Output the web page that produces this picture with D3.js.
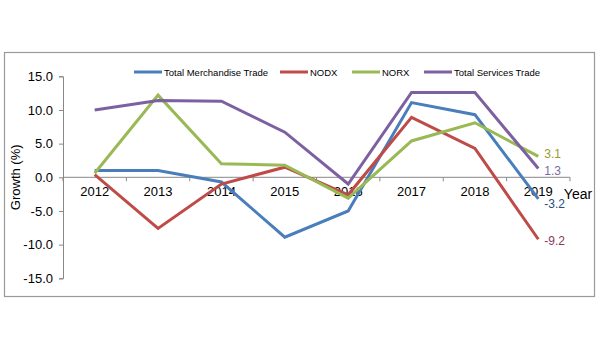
<!DOCTYPE html>
<html><head><meta charset="utf-8">
<script src="https://cdn.jsdelivr.net/npm/d3@7"></script>
<style>body{margin:0;background:#fff;} text{font-family:"Liberation Sans",Arial,sans-serif;}</style>
</head><body><svg id="c" width="600" height="360"></svg>
<script>
const years = ["2012","2013","2014","2015","2016","2017","2018","2019"];
const merchandise = [1.0, 1.0, -0.7, -8.9, -5.0, 11.1, 9.3, -3.2];
const nodx = [0.4, -7.6, -1.0, 1.5, -2.6, 8.9, 4.3, -9.2];
const norx = [0.6, 12.2, 2.0, 1.8, -3.1, 5.4, 8.1, 3.1];
const services = [10.0, 11.4, 11.3, 6.7, -1.0, 12.6, 12.6, 1.3];
const yTicks = [15, 10, 5, 0, -5, -10, -15];
const seriesNames = ["Total Merchandise Trade","NODX","NORX","Total Services Trade"];
const seriesColors = ["#4a7ebb","#be4b48","#98b954","#7d60a0"];
const labelColors = ["#1f4e79","#8b3a5a","#9a9a2a","#7a6aa6"];

const fmt = v => v.toFixed(1);

const svg = d3.select("#c");
svg.append("rect").attr("x",4.5).attr("y",52.5).attr("width",590).attr("height",244)
  .attr("fill","#fff").attr("stroke","#999").attr("stroke-width",1.2);

const x0 = 63, x1 = 570, yTop = 76.3, yBot = 278.3;
const x = d3.scaleBand().domain(years).range([x0,x1]);
const y = d3.scaleLinear().domain([-15,15]).range([yBot,yTop]);

// y axis
const yAxis = svg.append("g").attr("transform",`translate(${x0},0)`)
  .call(d3.axisLeft(y).tickValues(yTicks).tickFormat(fmt).tickSize(4));
yAxis.select(".domain").attr("stroke","#888");
yAxis.selectAll(".tick line").attr("stroke","#888");
yAxis.selectAll(".tick text").attr("font-size",13).attr("fill","#000").attr("dx",-3)
  .attr("font-family","Liberation Sans, Arial, sans-serif");

// x axis at zero
const xAxisG = svg.append("g").attr("transform",`translate(0,${y(0)})`);
xAxisG.append("line").attr("x1",x0).attr("x2",x1).attr("stroke","#888");
const bounds = years.map(d=>x(d)).concat([x1]);
xAxisG.selectAll(".bt").data(bounds).join("line").attr("x1",d=>d).attr("x2",d=>d)
  .attr("y1",0).attr("y2",4).attr("stroke","#888");
xAxisG.selectAll(".yl").data(years).join("text")
  .attr("x",d=>x(d)+x.bandwidth()/2).attr("y",19).attr("text-anchor","middle")
  .attr("font-size",13).attr("fill","#000").text(d=>d);

svg.append("text").attr("x",578).attr("y",y(0)+22).attr("font-size",14).attr("text-anchor","middle").text("Year");
svg.append("text").attr("transform",`translate(20,${y(0)}) rotate(-90)`).attr("text-anchor","middle")
  .attr("font-size",13).text("Growth (%)");

const allSeries = [merchandise, nodx, norx, services];
const line = d3.line().x((d,i)=>x(years[i])+x.bandwidth()/2).y(d=>y(d));
allSeries.forEach((s,k)=>{
  svg.append("path").datum(s).attr("d",line).attr("fill","none")
    .attr("stroke",seriesColors[k]).attr("stroke-width",3).attr("stroke-linejoin","miter");
});

// end labels
const lastX = x(years[7]) + x.bandwidth()/2 + 6;
const labelOffsets = [5, 2, -2, 2];
allSeries.forEach((s,k)=>{
  const v = s[7];
  svg.append("text").attr("x",lastX).attr("y",y(v)+4+labelOffsets[k]).attr("font-size",12)
    .attr("fill",labelColors[k]).text(fmt(v));
});

// legend
const legX = [134, 280, 352, 424];
const leg = svg.append("g");
seriesNames.forEach((n,k)=>{
  leg.append("line").attr("x1",legX[k]).attr("x2",legX[k]+28).attr("y1",72).attr("y2",72)
    .attr("stroke",seriesColors[k]).attr("stroke-width",3);
  leg.append("text").attr("x",legX[k]+30).attr("y",75.5).attr("font-size",9.5).attr("fill","#000").text(n);
});
</script></body></html>
